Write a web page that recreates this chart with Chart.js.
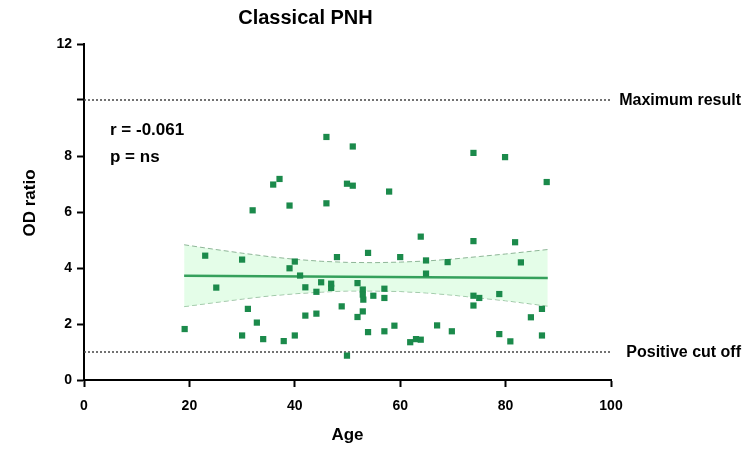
<!DOCTYPE html>
<html lang="en">
<head>
  <meta charset="UTF-8" />
  <title>Classical PNH</title>
  <script src="https://cdn.jsdelivr.net/npm/chart.js"></script>
  <style>
    html, body { margin: 0; padding: 0; background: #fff; }
    #wrap { width: 746px; height: 449px; }
  </style>
</head>
<body>
  <div id="wrap"><canvas id="odChart" width="746" height="449"></canvas></div>

  <script>
// === data ===
const ages = [19.1, 23.0, 25.1, 30.0, 30.0, 31.1, 32.0, 32.8, 34.0, 35.9,
  37.1, 37.9, 39.0, 39.0, 40.0, 40.0, 41.0, 42.0, 42.0, 45.0,
  44.1, 44.1, 46.0, 46.0, 46.9, 46.9, 48.0, 48.9, 49.9, 49.9,
  51.0, 51.0, 51.9, 51.9, 52.9, 52.9, 53.0, 52.9, 53.9, 53.9,
  54.9, 57.0, 57.0, 57.0, 57.9, 58.9, 60.0, 61.9, 63.0, 63.9,
  63.9, 64.9, 64.9, 67.0, 69.0, 69.8, 73.9, 73.9, 73.9, 75.0,
  73.9, 78.8, 78.8, 79.9, 80.9, 81.8, 82.9, 84.8, 86.9, 86.9, 87.8];
const odRatio = [1.82, 4.44, 3.30, 4.30, 1.59, 2.54, 6.06, 2.05, 1.46, 6.98,
  7.18, 1.39, 6.23, 3.99, 4.23, 1.59, 3.73, 3.31, 2.30, 3.49,
  3.15, 2.37, 8.68, 6.31, 3.44, 3.29, 4.39, 2.63, 7.01, 0.87,
  8.34, 6.94, 3.46, 2.25, 3.23, 3.05, 2.87, 2.45, 4.54, 1.71,
  3.01, 3.26, 2.93, 1.74, 6.73, 1.94, 4.39, 1.35, 1.46, 1.44,
  5.12, 4.27, 3.80, 1.95, 4.21, 1.74, 8.11, 4.96, 3.01, 2.93,
  2.66, 3.07, 1.64, 7.96, 1.38, 4.92, 4.20, 2.24, 2.54, 1.59, 7.07];

// regression line and its confidence band
const fitAge = [19, 88];
const fitOD = [3.72, 3.64];
const bandAge = [19, 25, 30, 35, 40, 45, 50, 55, 60, 65, 70, 75, 80, 88];
const bandUpper = [4.83, 4.66, 4.53, 4.41, 4.31, 4.24, 4.20, 4.19, 4.21, 4.25, 4.32, 4.41, 4.50, 4.66];
const bandLower = [2.62, 2.77, 2.89, 3.00, 3.08, 3.14, 3.18, 3.18, 3.16, 3.11, 3.03, 2.93, 2.83, 2.64];

// reference lines
const refLineAge = [0, 100];
const maxResult = 10;
const cutOff = 1;

const yTicks = [0, 2, 4, 6, 8, 10, 12];
const xTicks = [0, 20, 40, 60, 80, 100];

const FONT = "'Liberation Sans', Arial, sans-serif";

function toXY(xs, ys) {
  return xs.map((x, i) => ({ x: x, y: ys[i] }));
}

// === labels that sit outside the normal chart parts ===
const textPlugin = {
  id: "extraText",
  afterDraw(chart) {
    const ctx = chart.ctx;
    const y = chart.scales.y;
    ctx.save();
    ctx.fillStyle = "#000";
    ctx.textBaseline = "middle";

    ctx.font = "bold 16px " + FONT;
    ctx.textAlign = "right";
    ctx.fillText("Maximum result", 741, y.getPixelForValue(maxResult) + 1);
    ctx.fillText("Positive cut off", 741, y.getPixelForValue(cutOff) + 1);

    ctx.font = "bold 17px " + FONT;
    ctx.textAlign = "left";
    ctx.fillText("r = -0.061", 110, 130);
    ctx.fillText("p = ns", 110, 157);

    // y axis title
    ctx.translate(30, 203);
    ctx.rotate(-Math.PI / 2);
    ctx.textAlign = "center";
    ctx.fillText("OD ratio", 0, 0);
    ctx.restore();
  }
};

const ctx = document.getElementById("odChart").getContext("2d");
new Chart(ctx, {
  type: "scatter",
  data: {
    datasets: [
      {
        label: "Patients",
        data: toXY(ages, odRatio),
        pointStyle: "rect",
        pointRadius: 4.4,
        pointBorderWidth: 0,
        backgroundColor: "#1b8a4b",
        order: 0
      },
      {
        label: "Fit",
        type: "line",
        data: toXY(fitAge, fitOD),
        borderColor: "#35a05c",
        borderWidth: 2.5,
        pointRadius: 0,
        fill: false,
        order: 1
      },
      {
        label: "Upper CI",
        type: "line",
        data: toXY(bandAge, bandUpper),
        borderColor: "#8db596",
        borderWidth: 1,
        borderDash: [5, 3],
        backgroundColor: "rgba(210, 251, 216, 0.6)",
        pointRadius: 0,
        fill: "+1",
        order: 2
      },
      {
        label: "Lower CI",
        type: "line",
        data: toXY(bandAge, bandLower),
        borderColor: "#8db596",
        borderWidth: 1,
        borderDash: [5, 3],
        pointRadius: 0,
        fill: false,
        order: 3
      },
      {
        label: "Maximum result",
        type: "line",
        data: toXY(refLineAge, [maxResult, maxResult]),
        borderColor: "#444",
        borderWidth: 1.5,
        borderDash: [2, 2],
        pointRadius: 0,
        fill: false,
        order: 4
      },
      {
        label: "Positive cut off",
        type: "line",
        data: toXY(refLineAge, [cutOff, cutOff]),
        borderColor: "#444",
        borderWidth: 1.5,
        borderDash: [2, 2],
        pointRadius: 0,
        fill: false,
        order: 5
      }
    ]
  },
  options: {
    responsive: false,
    animation: false,
    layout: { padding: { left: 0, right: 135, top: 0, bottom: 0 } },
    plugins: {
      legend: { display: false },
      tooltip: { enabled: false },
      title: {
        display: true,
        text: "Classical PNH",
        color: "#000",
        font: { family: FONT, size: 20, weight: "bold" },
        padding: { top: 6, bottom: 14 }
      }
    },
    scales: {
      x: {
        type: "linear",
        min: 0,
        max: 100,
        afterBuildTicks: axis => { axis.ticks = xTicks.map(v => ({ value: v })); },
        afterFit: axis => { axis.height = 69; },
        border: { color: "#000", width: 2 },
        grid: { drawOnChartArea: false, drawTicks: true, tickLength: 7, tickColor: "#000", tickWidth: 2 },
        ticks: { color: "#000", padding: 11, font: { family: FONT, size: 14, weight: "bold" } },
        title: {
          display: true,
          text: "Age",
          color: "#000",
          font: { family: FONT, size: 17, weight: "bold" },
          padding: { top: 0, bottom: 3 }
        }
      },
      y: {
        type: "linear",
        min: 0,
        max: 12,
        afterBuildTicks: axis => { axis.ticks = yTicks.map(v => ({ value: v })); },
        afterFit: axis => { axis.width = 84; },
        border: { color: "#000", width: 2 },
        grid: { drawOnChartArea: false, drawTicks: true, tickLength: 7, tickColor: "#000", tickWidth: 2 },
        ticks: {
          color: "#000",
          padding: 5,
          font: { family: FONT, size: 14, weight: "bold" },
          callback: v => (v === maxResult ? "" : v)
        }
      }
    }
  },
  plugins: [textPlugin]
});
  </script>
</body>
</html>
